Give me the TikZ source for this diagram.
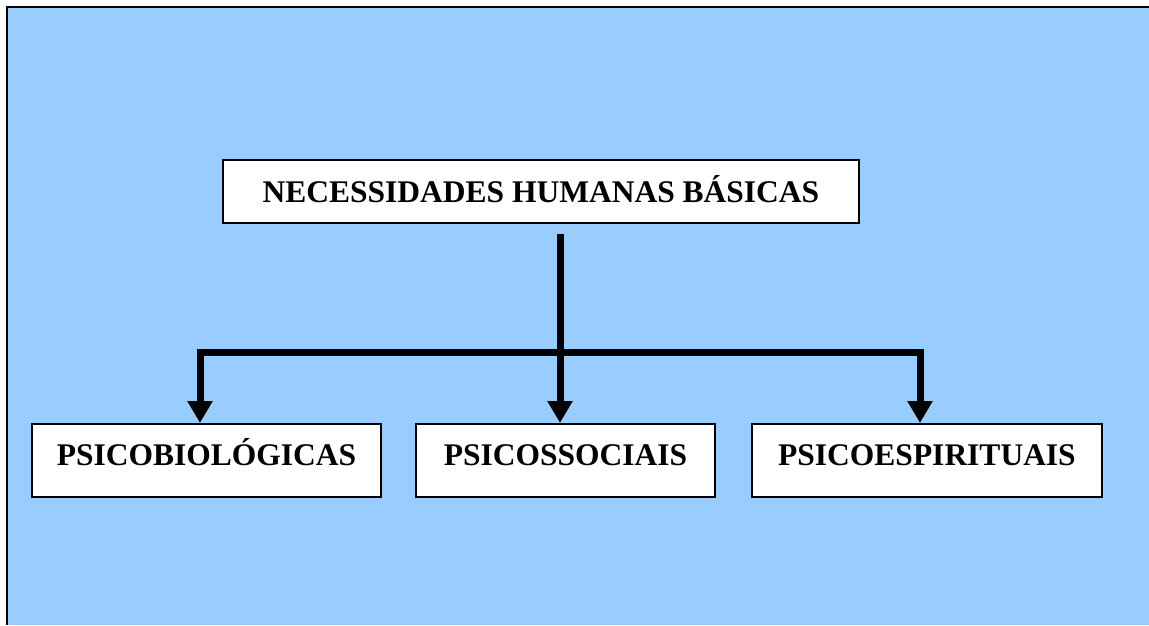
\documentclass[tikz,border=0pt]{standalone}
\usepackage{fontspec}
\setmainfont{Liberation Serif}
\usetikzlibrary{arrows.meta}

\tikzset{
  boxnode/.style={draw=black, line width=2pt, fill=white, inner sep=0pt,
    font=\fontsize{31.5}{38}\selectfont\bfseries, text height=21pt},
  linkline/.style={line width=7pt, -{Triangle[width=24pt,length=22pt]}},
}

\begin{document}
\begin{tikzpicture}[x=1pt,y=1pt,yscale=-1,xscale=1]
\useasboundingbox (0,0) rectangle (1149,625);

%Shape: Rectangle (background frame, cut off at the right and bottom)
\fill [color={rgb, 255:red, 153; green, 204; blue, 255 }] (7,7) rectangle (1149,625);
\draw [line width=2pt] (7,625) -- (7,7) -- (1149,7);

% Text Node
\node [boxnode, minimum width=636pt, minimum height=63pt, text depth=0pt] (top) at (541,191.5) {NECESSIDADES HUMANAS BÁSICAS};
% Text Node
\node [boxnode, minimum width=349pt, minimum height=73pt, text depth=11pt] (bio) at (206.5,460.5) {PSICOBIOLÓGICAS};
% Text Node
\node [boxnode, minimum width=299pt, minimum height=73pt, text depth=11pt] (soc) at (565.5,460.5) {PSICOSSOCIAIS};
% Text Node
\node [boxnode, minimum width=350pt, minimum height=73pt, text depth=11pt] (esp) at (927,460.5) {PSICOESPIRITUAIS};

\coordinate (hub) at (560,352);
\coordinate (left) at (200,352);
\coordinate (right) at (920,352);

%Lines
\draw [linkline] ([yshift=10pt]top.south -| hub) -- (hub |- soc.north);
\draw [linkline, {Triangle[width=24pt,length=22pt]}-{Triangle[width=24pt,length=22pt]}] (left |- bio.north) -- (left) -- (right) -- (right |- esp.north);

\end{tikzpicture}
\end{document}
